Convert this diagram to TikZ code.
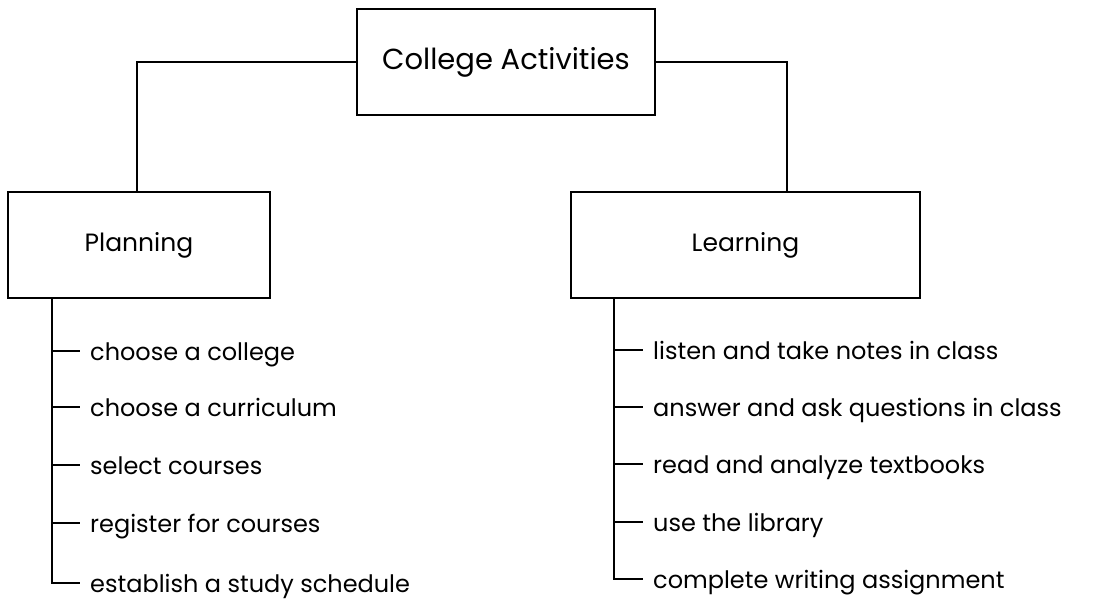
\documentclass[tikz,border=0pt]{standalone}
\usepackage{fontspec}
\setmainfont{Poppins}
\begin{document}
\begin{tikzpicture}[x=1pt,y=-1pt,
  box/.style={draw,line width=1.6pt,minimum height=106pt,inner sep=0pt,font=\fontsize{25}{30}\selectfont},
  item/.style={anchor=west,inner xsep=10pt,inner ysep=0pt,text height=19pt,text depth=0pt,font=\fontsize{24}{28}\selectfont},
  conn/.style={line width=1.6pt}]
\useasboundingbox (0,0) rectangle (1111,601);
\node[box,minimum width=298pt,font=\fontsize{29}{34}\selectfont] (top) at (506,62) {College Activities};
\node[box,minimum width=262pt] (plan) at (139,245) {Planning};
\node[box,minimum width=349pt] (learn) at (745.5,245) {Learning};
\coordinate (pj) at (137,192);
\coordinate (lj) at (787,192);
\draw[conn] (top.west) -| (pj);
\draw[conn] (top.east) -| (lj);
% Planning items
\node[item] (p1) at (80,351) {choose a college};
\node[item] (p2) at (80,407) {choose a curriculum};
\node[item] (p3) at (80,465) {select courses};
\node[item] (p4) at (80,523) {register for courses};
\node[item] (p5) at (80,583) {establish a study schedule};
\coordinate (pt) at (52,298);
\draw[conn] (pt) |- (p5.west);
\foreach \i in {1,...,4} \draw[conn] (pt |- p\i.west) -- (p\i.west);
% Learning items
\node[item] (l1) at (643,350) {listen and take notes in class};
\node[item] (l2) at (643,407) {answer and ask questions in class};
\node[item] (l3) at (643,464) {read and analyze textbooks};
\node[item] (l4) at (643,522) {use the library};
\node[item] (l5) at (643,579) {complete writing assignment};
\coordinate (lt) at (614,298);
\draw[conn] (lt) |- (l5.west);
\foreach \i in {1,...,4} \draw[conn] (lt |- l\i.west) -- (l\i.west);
\end{tikzpicture}
\end{document}
